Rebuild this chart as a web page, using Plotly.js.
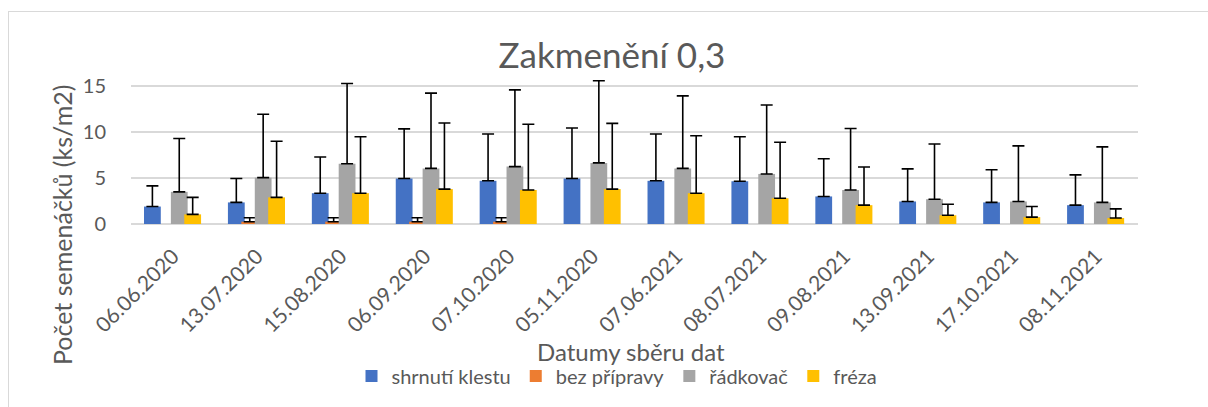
<!DOCTYPE html>
<html>
<head>
<meta charset="utf-8">
<script src="https://cdn.plot.ly/plotly-3.0.1.min.js"></script>
<style>
  html, body { margin: 0; padding: 0; background: #fff; }
  #wrap { position: relative; width: 1208px; height: 407px; overflow: hidden; }
  #chart { position: absolute; left: 0; top: 0; width: 1208px; height: 407px; }
  .bt { position: absolute; left: 8px; top: 11px; width: 1200px; height: 0; border-top: 1px solid #d9d9d9; }
  .bl { position: absolute; left: 8px; top: 11px; width: 0; height: 396px; border-left: 1px solid #d9d9d9; }
</style>
</head>
<body>
<div id="wrap">
  <div id="chart"></div>
  <div class="bt"></div>
  <div class="bl"></div>
</div>
<script>
const categories = ["06.06.2020","13.07.2020","15.08.2020","06.09.2020","07.10.2020","05.11.2020",
                    "07.06.2021","08.07.2021","09.08.2021","13.09.2021","17.10.2021","08.11.2021"];

const seriesNames = ["shrnutí klestu","bez přípravy","řádkovač","fréza"];

const shrnutiKlestu    = [1.9, 2.35, 3.35, 4.95, 4.7, 4.95, 4.7, 4.65, 3.0, 2.45, 2.35, 2.05];
const shrnutiKlestuErr = [2.25, 2.6, 3.95, 5.4, 5.1, 5.5, 5.1, 4.85, 4.1, 3.55, 3.55, 3.3];

const bezPripravy      = [null, 0.25, 0.25, 0.25, 0.25, null, null, null, null, null, null, null];
const bezPripravyErr   = [null, 0.43, 0.43, 0.43, 0.43, null, null, null, null, null, null, null];

const radkovac         = [3.5, 5.05, 6.55, 6.05, 6.25, 6.65, 6.05, 5.45, 3.7, 2.7, 2.45, 2.35];
const radkovacErr      = [5.8, 6.9, 8.75, 8.2, 8.35, 8.95, 7.9, 7.5, 6.7, 6.0, 6.05, 6.05];

const freza            = [1.05, 2.9, 3.35, 3.8, 3.7, 3.8, 3.35, 2.8, 2.05, 0.95, 0.75, 0.65];
const frezaErr         = [1.85, 6.1, 6.15, 7.2, 7.15, 7.15, 6.25, 6.1, 4.15, 1.2, 1.15, 1.0];

const yTicks = [0, 5, 10, 15];

const colors = ["#4472C4", "#ED7D31", "#A5A5A5", "#FFC000"];
const offsets = [-0.345, -0.185, -0.025, 0.135];
const values = [shrnutiKlestu, bezPripravy, radkovac, freza];
const errors = [shrnutiKlestuErr, bezPripravyErr, radkovacErr, frezaErr];

const FONT = "Lato, 'Open Sans', sans-serif";
const TXT = "#595959";

const traces = values.map((v, i) => ({
  type: "bar",
  name: seriesNames[i],
  x: categories,
  y: v,
  offset: offsets[i],
  width: 0.2,
  marker: { color: colors[i], line: { width: 0 } },
  error_y: { type: "data", symmetric: false, array: errors[i], arrayminus: errors[i].map(() => 0),
             color: "#000000", thickness: 1.6, width: 6 },
  hoverinfo: "skip"
}));

const L = 131, R = 1138, T = 77, B = 224, W = 1208, H = 407;
const px2x = p => (p - L) / (R - L);
const py2y = p => (B - p) / (B - T);

const layout = {
  width: W, height: H,
  margin: { l: L, r: W - R, t: T, b: H - B, pad: 0 },
  paper_bgcolor: "#ffffff",
  plot_bgcolor: "#ffffff",
  barmode: "overlay",
  showlegend: true,
  font: { family: FONT, color: TXT, size: 18 },
  title: { text: "Zakmenění 0,3", font: { family: FONT, size: 35, color: TXT },
           x: 612 / W, xanchor: "center", xref: "container",
           y: 1 - 56 / H, yanchor: "middle", yref: "container" },
  xaxis: {
    type: "category",
    range: [-0.5, 11.5],
    tickangle: -45,
    tickfont: { family: FONT, size: 21, color: TXT },
    showgrid: false,
    zeroline: false,
    showline: false,
    ticks: "",
    ticklabelstandoff: 15,
    fixedrange: true
  },
  yaxis: {
    range: [0, 16],
    tickvals: yTicks,
    ticktext: yTicks.map(String),
    tickfont: { family: FONT, size: 20, color: TXT },
    showgrid: true,
    gridcolor: "#d9d9d9",
    gridwidth: 1.5,
    zeroline: true,
    zerolinecolor: "#d9d9d9",
    zerolinewidth: 1.5,
    showline: false,
    ticks: "",
    ticklabelstandoff: 24,
    fixedrange: true
  },
  legend: {
    orientation: "h",
    xref: "container", yref: "container",
    x: 617 / W, xanchor: "center",
    y: 1 - 376 / H, yanchor: "middle",
    font: { family: FONT, size: 20, color: TXT },
    itemwidth: 20,
    tracegroupgap: 0,
    bgcolor: "rgba(0,0,0,0)"
  },
  annotations: [
    { text: "Datumy sběru dat", xref: "paper", yref: "paper",
      x: px2x(631), y: py2y(351), xanchor: "center", yanchor: "middle",
      showarrow: false, font: { family: FONT, size: 24, color: TXT } },
    { text: "Počet semenáčků (ks/m2)", xref: "paper", yref: "paper",
      x: px2x(62), y: py2y(225), xanchor: "center", yanchor: "middle", textangle: -90,
      showarrow: false, font: { family: FONT, size: 25, color: TXT } }
  ]
};

Plotly.newPlot("chart", traces, layout, { displayModeBar: false, staticPlot: true });
</script>
</body>
</html>
